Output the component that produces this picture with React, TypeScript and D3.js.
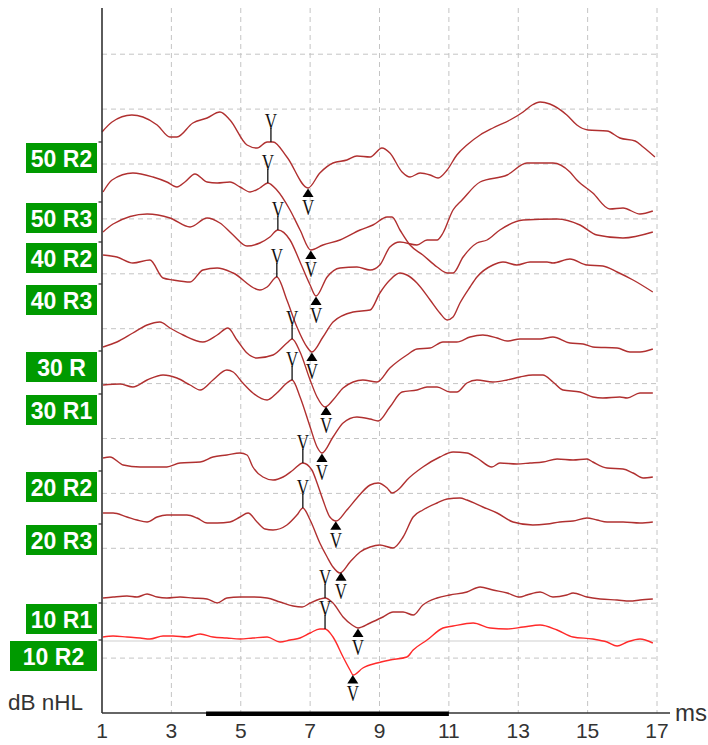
import React from "react";
import * as d3 from "d3";

// ---- data (latency in ms, amplitude in µV relative to each trace baseline) ----
const labels = ["50 R2", "50 R3", "40 R2", "40 R3", "30 R", "30 R1", "20 R2", "20 R3", "10 R1", "10 R2"];
const baselines = [5.71, 5.11, 4.71, 4.29, 3.62, 3.19, 2.42, 1.89, 1.1, 0.73];
const peakV = [5.87, 5.78, 6.07, 6.04, 6.48, 6.48, 6.79, 6.79, 7.43, 7.43];
const troughV = [6.94, 7.02, 7.17, 7.05, 7.46, 7.34, 7.74, 7.89, 8.38, 8.23];
const xTicks = [1, 3, 5, 7, 9, 11, 13, 15, 17];
const stimBar = [4, 11];
const selectedIndex = 9;

const t50R2: [number, number][] = [
  [1.0, 0.1], [1.29, 0.2], [1.86, 0.27], [2.18, 0.25], [2.59, 0.17], [2.96, 0.05], [3.16, 0.05], [3.62, 0.19],
  [4.03, 0.24], [4.4, 0.3], [4.69, 0.22], [5.18, -0.03], [5.47, -0.06], [5.76, 0.0], [5.93, 0.0], [6.33, -0.15],
  [6.94, -0.46], [7.28, -0.31], [7.66, -0.21], [8.06, -0.18], [8.35, -0.14], [8.73, -0.15], [9.07, -0.06],
  [9.3, -0.11], [9.65, -0.3], [9.88, -0.35], [10.17, -0.31], [10.46, -0.33], [10.69, -0.36], [10.95, -0.28],
  [11.23, -0.13], [11.52, -0.03], [11.9, 0.07], [12.27, 0.14], [12.76, 0.22], [13.14, 0.3], [13.4, 0.37],
  [13.63, 0.4], [13.91, 0.38], [14.4, 0.27], [14.69, 0.17], [15.01, 0.12], [15.56, 0.11], [15.93, 0.04],
  [16.37, 0.01], [16.6, -0.05], [16.94, -0.15],
];
const t50R3: [number, number][] = [
  [1.03, 0.1], [1.29, 0.22], [1.89, 0.29], [2.47, 0.25], [2.87, 0.2], [3.16, 0.15], [3.39, 0.2], [3.68, 0.28],
  [4.03, 0.2], [4.32, 0.19], [4.69, 0.2], [4.98, 0.15], [5.27, 0.1], [5.55, 0.14], [5.78, 0.19], [6.04, 0.12],
  [6.42, -0.08], [6.71, -0.28], [7.02, -0.48], [7.37, -0.43], [7.86, -0.38], [8.44, -0.28], [8.81, -0.23],
  [9.22, -0.15], [9.36, -0.15], [9.59, -0.28], [9.88, -0.43], [10.25, -0.53], [10.66, -0.65], [10.95, -0.71],
  [11.12, -0.71], [11.41, -0.55], [11.81, -0.41], [12.1, -0.38], [12.47, -0.28], [13.14, -0.18], [14.12, -0.17],
  [14.78, -0.23], [15.27, -0.33], [16.02, -0.36], [16.88, -0.3],
];
const t40R2: [number, number][] = [
  [1.03, 0.1], [1.32, 0.18], [2.3, 0.28], [2.96, 0.24], [3.54, 0.15], [4.03, 0.24], [4.4, 0.19], [4.78, 0.07],
  [5.18, -0.04], [5.55, -0.01], [5.84, 0.05], [6.07, 0.12], [6.42, 0.02], [6.71, -0.2], [7.0, -0.43],
  [7.17, -0.54], [7.49, -0.35], [7.86, -0.26], [8.35, -0.25], [8.73, -0.28], [9.01, -0.23], [9.3, -0.05],
  [9.59, 0.0], [10.08, -0.03], [10.37, 0.02], [10.66, 0.02], [10.83, 0.09], [11.12, 0.32], [11.38, 0.42],
  [11.9, 0.6], [12.68, 0.67], [13.25, 0.79], [14.0, 0.79], [14.49, 0.7], [14.69, 0.62], [15.15, 0.49],
  [15.64, 0.33], [16.02, 0.34], [16.51, 0.28], [16.88, 0.31],
];
const t40R3: [number, number][] = [
  [1.03, 0.29], [1.43, 0.27], [1.89, 0.21], [2.38, 0.24], [2.76, 0.06], [3.05, 0.04], [3.54, 0.02], [3.91, 0.14],
  [4.32, 0.16], [4.78, 0.11], [5.55, -0.06], [5.76, -0.03], [6.04, 0.07], [6.33, -0.16], [6.62, -0.43],
  [6.91, -0.63], [7.05, -0.68], [7.37, -0.53], [7.66, -0.38], [8.24, -0.28], [8.73, -0.26], [9.01, -0.09],
  [9.3, 0.04], [9.59, 0.11], [9.79, 0.09], [10.08, 0.01], [10.46, -0.16], [10.74, -0.29], [10.95, -0.36],
  [11.12, -0.33], [11.32, -0.19], [11.61, -0.03], [11.81, 0.07], [12.27, 0.19], [12.56, 0.22], [12.96, 0.19],
  [13.34, 0.22], [13.83, 0.22], [14.0, 0.21], [14.49, 0.25], [14.98, 0.19], [15.44, 0.18], [15.85, 0.12],
  [16.31, 0.04], [16.88, -0.08],
];
const t30R: [number, number][] = [
  [1.03, 0.04], [1.43, 0.09], [1.89, 0.18], [2.3, 0.26], [2.67, 0.29], [2.96, 0.23], [3.34, 0.16], [3.91, 0.09],
  [4.32, 0.16], [4.63, 0.23], [4.89, 0.11], [5.18, -0.02], [5.47, -0.07], [5.93, -0.04], [6.33, 0.08],
  [6.48, 0.12], [6.71, -0.01], [7.0, -0.29], [7.2, -0.46], [7.43, -0.56], [7.66, -0.49], [7.95, -0.37],
  [8.24, -0.31], [8.52, -0.29], [8.93, -0.31], [9.3, -0.17], [9.79, -0.04], [10.08, 0.02], [10.46, 0.03],
  [10.83, 0.09], [11.23, 0.09], [11.61, 0.14], [11.98, 0.16], [12.39, 0.13], [12.68, 0.1], [13.05, 0.12],
  [13.63, 0.12], [14.0, 0.14], [14.49, 0.08], [14.87, 0.07], [15.15, 0.04], [15.85, 0.03], [16.22, -0.01],
  [16.51, -0.01], [16.88, 0.02],
];
const t30R1: [number, number][] = [
  [1.03, 0.09], [1.52, 0.1], [1.89, 0.07], [2.3, 0.14], [2.76, 0.19], [3.16, 0.16], [3.54, 0.09], [3.83, 0.04],
  [4.2, 0.14], [4.6, 0.24], [4.78, 0.22], [5.06, 0.11], [5.35, 0.01], [5.76, -0.06], [6.04, 0.01], [6.33, 0.11],
  [6.48, 0.14], [6.71, -0.03], [7.0, -0.33], [7.2, -0.53], [7.34, -0.59], [7.66, -0.43], [7.95, -0.29],
  [8.35, -0.23], [8.73, -0.25], [8.96, -0.27], [9.3, -0.13], [9.65, 0.02], [10.08, 0.04], [10.37, 0.07],
  [10.66, 0.07], [11.03, 0.02], [11.23, 0.02], [11.52, 0.11], [11.81, 0.14], [12.27, 0.12], [12.68, 0.14],
  [13.05, 0.17], [13.42, 0.19], [13.71, 0.19], [14.0, 0.12], [14.29, 0.04], [14.78, 0.02], [15.15, -0.03],
  [15.44, -0.04], [15.93, -0.03], [16.14, -0.04], [16.51, 0.01], [16.88, 0.01],
];
const t20R2: [number, number][] = [
  [1.03, 0.13], [1.23, 0.14], [1.61, 0.06], [2.1, 0.04], [2.87, 0.04], [3.25, 0.08], [3.83, 0.09], [4.2, 0.14],
  [4.6, 0.16], [4.98, 0.18], [5.18, 0.16], [5.35, 0.04], [5.64, -0.06], [5.93, -0.09], [6.22, -0.06],
  [6.51, 0.01], [6.79, 0.08], [7.05, 0.01], [7.2, -0.12], [7.37, -0.29], [7.57, -0.46], [7.75, -0.5],
  [8.06, -0.39], [8.35, -0.27], [8.73, -0.14], [8.96, -0.12], [9.22, -0.17], [9.36, -0.22], [9.59, -0.17],
  [9.79, -0.09], [10.25, 0.04], [10.74, 0.14], [11.12, 0.19], [11.52, 0.18], [11.81, 0.13], [12.24, 0.04],
  [12.47, 0.08], [12.96, 0.07], [13.34, 0.08], [13.71, 0.09], [14.12, 0.12], [14.58, 0.11], [14.98, 0.12],
  [15.15, 0.09], [15.56, 0.03], [16.02, 0.02], [16.31, -0.02], [16.6, -0.07], [16.88, -0.06],
];
const t20R3: [number, number][] = [
  [1.03, 0.11], [1.32, 0.11], [1.72, 0.07], [2.01, 0.04], [2.3, 0.02], [2.59, 0.07], [2.87, 0.09], [3.45, 0.09],
  [3.74, 0.06], [4.03, 0.01], [4.32, 0.01], [4.69, 0.02], [4.98, 0.07], [5.21, 0.11], [5.47, 0.02],
  [5.7, -0.05], [5.93, -0.06], [6.33, -0.01], [6.62, 0.09], [6.79, 0.16], [7.0, 0.04], [7.28, -0.19],
  [7.49, -0.33], [7.66, -0.43], [7.86, -0.49], [8.15, -0.38], [8.44, -0.28], [8.73, -0.23], [9.01, -0.21],
  [9.39, -0.24], [9.68, -0.13], [9.97, 0.07], [10.25, 0.14], [10.66, 0.21], [10.95, 0.25], [11.32, 0.26],
  [11.52, 0.24], [11.98, 0.17], [12.39, 0.11], [12.85, 0.02], [13.42, -0.01], [13.83, 0.0], [14.2, 0.02],
  [14.58, 0.03], [14.98, 0.06], [15.27, 0.04], [15.56, 0.02], [16.02, 0.02], [16.51, 0.01], [16.88, 0.02],
];
const t10R1: [number, number][] = [
  [1.03, 0.05], [1.32, 0.06], [1.72, 0.07], [2.01, 0.06], [2.3, 0.09], [2.59, 0.06], [2.87, 0.05], [3.25, 0.06],
  [3.62, 0.05], [4.03, 0.04], [4.32, 0.0], [4.6, 0.05], [4.98, 0.06], [5.35, 0.06], [5.76, 0.05], [6.13, 0.01],
  [6.51, -0.03], [6.77, -0.04], [7.0, 0.0], [7.28, 0.04], [7.43, 0.05], [7.66, 0.0], [7.95, -0.14],
  [8.21, -0.22], [8.38, -0.25], [8.73, -0.2], [9.1, -0.14], [9.39, -0.09], [9.68, -0.09], [9.97, -0.12],
  [10.25, -0.02], [10.66, 0.05], [11.03, 0.08], [11.52, 0.11], [11.9, 0.16], [12.27, 0.13], [12.68, 0.1],
  [13.05, 0.06], [13.25, 0.08], [13.63, 0.11], [14.0, 0.06], [14.4, 0.08], [14.58, 0.1], [14.98, 0.06],
  [15.36, 0.04], [15.85, 0.03], [16.22, 0.02], [16.51, 0.03], [16.88, 0.04],
];
const t10R2: [number, number][] = [
  [1.03, 0.03], [1.32, 0.04], [1.72, 0.03], [2.1, 0.02], [2.38, 0.01], [2.76, 0.04], [3.05, 0.04], [3.45, 0.03],
  [3.83, 0.06], [4.2, 0.03], [4.6, 0.02], [4.98, 0.01], [5.35, 0.02], [5.76, 0.03], [6.13, -0.02], [6.42, 0.0],
  [6.71, 0.02], [7.0, 0.07], [7.28, 0.11], [7.43, 0.11], [7.66, 0.03], [7.95, -0.17], [8.15, -0.3],
  [8.24, -0.35], [8.52, -0.28], [8.93, -0.23], [9.3, -0.2], [9.79, -0.17], [9.97, -0.1], [10.37, 0.0],
  [10.83, 0.12], [11.12, 0.14], [11.7, 0.17], [12.19, 0.12], [12.68, 0.11], [13.14, 0.13], [13.63, 0.15],
  [14.12, 0.1], [14.58, 0.03], [15.15, 0.01], [15.56, -0.02], [15.85, -0.06], [16.14, -0.02], [16.51, 0.01],
  [16.88, -0.03],
];
const traces = [t50R2, t50R3, t40R2, t40R3, t30R, t30R1, t20R2, t20R3, t10R1, t10R2];

// ---- layout ----
const W = 708;
const H = 745;
const left = 102;
const right = 657;
const top = 8;
const bottom = 713;
const gridStep = 0.549; // µV per grid division

const x = d3.scaleLinear().domain([1, 17]).range([left, right]);
const y = d3.scaleLinear().domain([0, 7.05]).range([bottom, top]);

function valueAt(tr: [number, number][], t: number) {
  const i = d3.bisector((d: [number, number]) => d[0]).left(tr, t);
  if (i <= 0) return tr[0][1];
  if (i >= tr.length) return tr[tr.length - 1][1];
  const a = tr[i - 1];
  const b = tr[i];
  const f = (t - a[0]) / (b[0] - a[0]);
  return a[1] + f * (b[1] - a[1]);
}

const traceColor = "#b03030";
const selColor = "#ff2a2a";
const gridColor = "#c4c4c4";

export default function App() {
  const hGrid = d3.range(1, 13).map((k) => k * gridStep);
  const vGrid = xTicks.slice(1);
  return (
    <div style={{ position: "absolute", left: 0, top: 0 }}>
      <svg width={W} height={H} style={{ display: "block", background: "#fff" }}>
        {/* grid */}
        {hGrid.map((v, i) => (
          <line key={"h" + i} x1={left} x2={right} y1={y(v)} y2={y(v)} stroke={gridColor} strokeWidth={1} strokeDasharray="5,4" />
        ))}
        {vGrid.map((t) => (
          <line key={"v" + t} x1={x(t)} x2={x(t)} y1={top} y2={bottom} stroke={gridColor} strokeWidth={1} strokeDasharray="5,4" />
        ))}
        {/* selected baseline */}
        <line x1={left} x2={right} y1={y(baselines[selectedIndex]) + 1} y2={y(baselines[selectedIndex]) + 1} stroke="#cfcfcf" strokeWidth={1.2} />

        {/* traces */}
        {traces.map((tr, i) => {
          const base = baselines[i];
          const line = d3
            .line<[number, number]>()
            .x((d) => x(d[0]))
            .y((d) => y(base + d[1]))
            .curve(d3.curveMonotoneX);
          return (
            <path key={"t" + i} d={line(tr) || ""} fill="none" stroke={i === selectedIndex ? selColor : traceColor} strokeWidth={1.4} />
          );
        })}

        {/* V markers */}
        {traces.map((tr, i) => {
          const base = baselines[i];
          const px = x(peakV[i]);
          const py = y(base + valueAt(tr, peakV[i]));
          const tx = x(troughV[i]);
          const ty = y(base + valueAt(tr, troughV[i]));
          return (
            <g key={"m" + i}>
              <line x1={px} x2={px} y1={py - 14} y2={py} stroke="#111" strokeWidth={1.3} />
              <text
                transform={`translate(${px},${py - 13.5}) scale(0.74,1)`}
                textAnchor="middle"
                fontFamily="Liberation Serif, serif"
                fontSize={23}
                fill="#111"
              >
                V
              </text>
              <path d={`M${tx},${ty + 0.5} L${tx + 5.5},${ty + 9} L${tx - 5.5},${ty + 9} Z`} fill="#000" />
              <text
                transform={`translate(${tx},${ty + 27}) scale(0.74,1)`}
                textAnchor="middle"
                fontFamily="Liberation Serif, serif"
                fontSize={23}
                fill="#111"
              >
                V
              </text>
            </g>
          );
        })}

        {/* axes */}
        <line x1={left} x2={left} y1={top} y2={bottom} stroke="#333" strokeWidth={1.6} />
        <line x1={left} x2={670} y1={bottom} y2={bottom} stroke="#333" strokeWidth={1.6} />
        <rect x={x(stimBar[0])} y={bottom - 1.5} width={x(stimBar[1]) - x(stimBar[0])} height={4.5} fill="#000" />
        {baselines.map((b, i) => (
          <line key={"yt" + i} x1={left - 3.5} x2={left} y1={y(b)} y2={y(b)} stroke="#333" strokeWidth={1.3} />
        ))}
        {xTicks.map((t) => (
          <text key={"xl" + t} x={x(t)} y={738} textAnchor="middle" fontFamily="Liberation Sans, Arial, sans-serif" fontSize={21} fill="#333">
            {t}
          </text>
        ))}
        <text x={675} y={721} fontFamily="Liberation Sans, Arial, sans-serif" fontSize={24} fill="#333">
          ms
        </text>
        <text x={8} y={710} fontFamily="Liberation Sans, Arial, sans-serif" fontSize={22.5} fill="#333">
          dB nHL
        </text>

        {/* labels */}
        {labels.map((lab, i) => {
          const ty = y(baselines[i]) + 1;
          const bx = i === selectedIndex ? 10 : 26;
          const bw = 97 - bx;
          return (
            <g key={"l" + i}>
              <rect x={bx} y={ty} width={bw} height={30} fill="#009a00" />
              <text
                x={bx + bw / 2}
                y={ty + 24}
                textAnchor="middle"
                fontFamily="Liberation Sans, Arial, sans-serif"
                fontWeight="bold"
                fontSize={23}
                fill="#fff"
              >
                {lab}
              </text>
            </g>
          );
        })}
      </svg>
    </div>
  );
}
